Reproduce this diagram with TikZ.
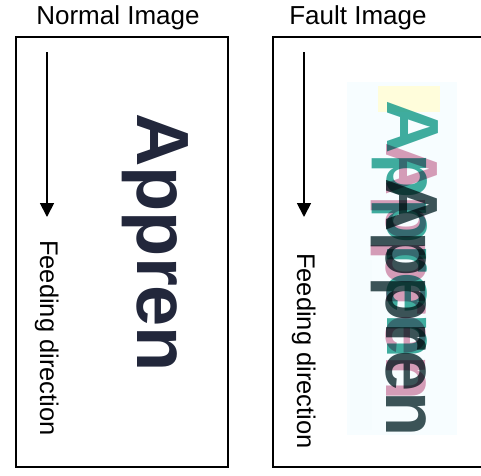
\documentclass[tikz,border=0pt]{standalone}
\usepackage{fontspec}
\setmainfont{Liberation Sans}
\usetikzlibrary{arrows.meta}
\definecolor{inkdark}{HTML}{161B30}
\definecolor{faultteal}{HTML}{1F9E8E}
\definecolor{faultmag}{HTML}{C04E7C}
\definecolor{faultink}{HTML}{0E2A2E}
\begin{document}
\begin{tikzpicture}[x=1pt,y=-1pt,
  frame/.style={draw=black, line width=1.3pt, rectangle, minimum width=212pt,
    minimum height=430pt, inner sep=0pt},
  feed/.style={line width=1.8pt, -{Triangle[width=14pt,length=14pt]}},
  title/.style={font=\fontsize{26}{30}\selectfont, inner sep=0pt},
  dirlabel/.style={font=\fontsize{25.5}{30}\selectfont, rotate=-90, inner sep=0pt,
    anchor=base west},
  word/.style={font=\fontsize{74}{80}\selectfont\bfseries, rotate=-90, inner sep=0pt,
    anchor=base west}]
\useasboundingbox (0,0) rectangle (481,475);

% titles
\node[title] (tnormal) at (118,18) {Normal Image};
\node[title] (tfault)  at (358,18) {Fault Image};

% frames
\node[frame] (fnormal) at (122,252) {};
\node[frame] (ffault)  at (379,252) {};

% feeding direction arrows and labels
\coordinate (na) at (47,52);
\coordinate (nb) at (47,217);
\draw[feed] (na) -- (nb);
\node[dirlabel] (dnormal) at (40,240) {Feeding direction};

\coordinate (fa) at (304,52);
\coordinate (fb) at (304,217);
\draw[feed] (fa) -- (fb);
\node[dirlabel] (dfault) at (297,253) {Feeding direction};

% normal scan of the word
\node[word, text=inkdark, opacity=0.95] (wnormal) at (137,113) {Appren};

% fault scan: smeared, colour-shifted copies of the word
\begin{scope}
  \clip (347,82) rectangle (457,435);
  \fill[white!97!cyan] (347,82) rectangle (457,435);
  \fill[yellow!14] (378,86) rectangle (440,112);
  \fill[cyan!4] (350,260) rectangle (372,430);
  \node[word, text=faultteal, opacity=0.85] (wf1) at (387,100) {Appren};
  \node[word, text=faultmag, opacity=0.55, blend mode=multiply] (wf2) at (386,142) {Appren};
  \node[word, text=faultink, opacity=0.8, blend mode=multiply] (wf3) at (386,178) {Appren};
\end{scope}
\end{tikzpicture}
\end{document}
